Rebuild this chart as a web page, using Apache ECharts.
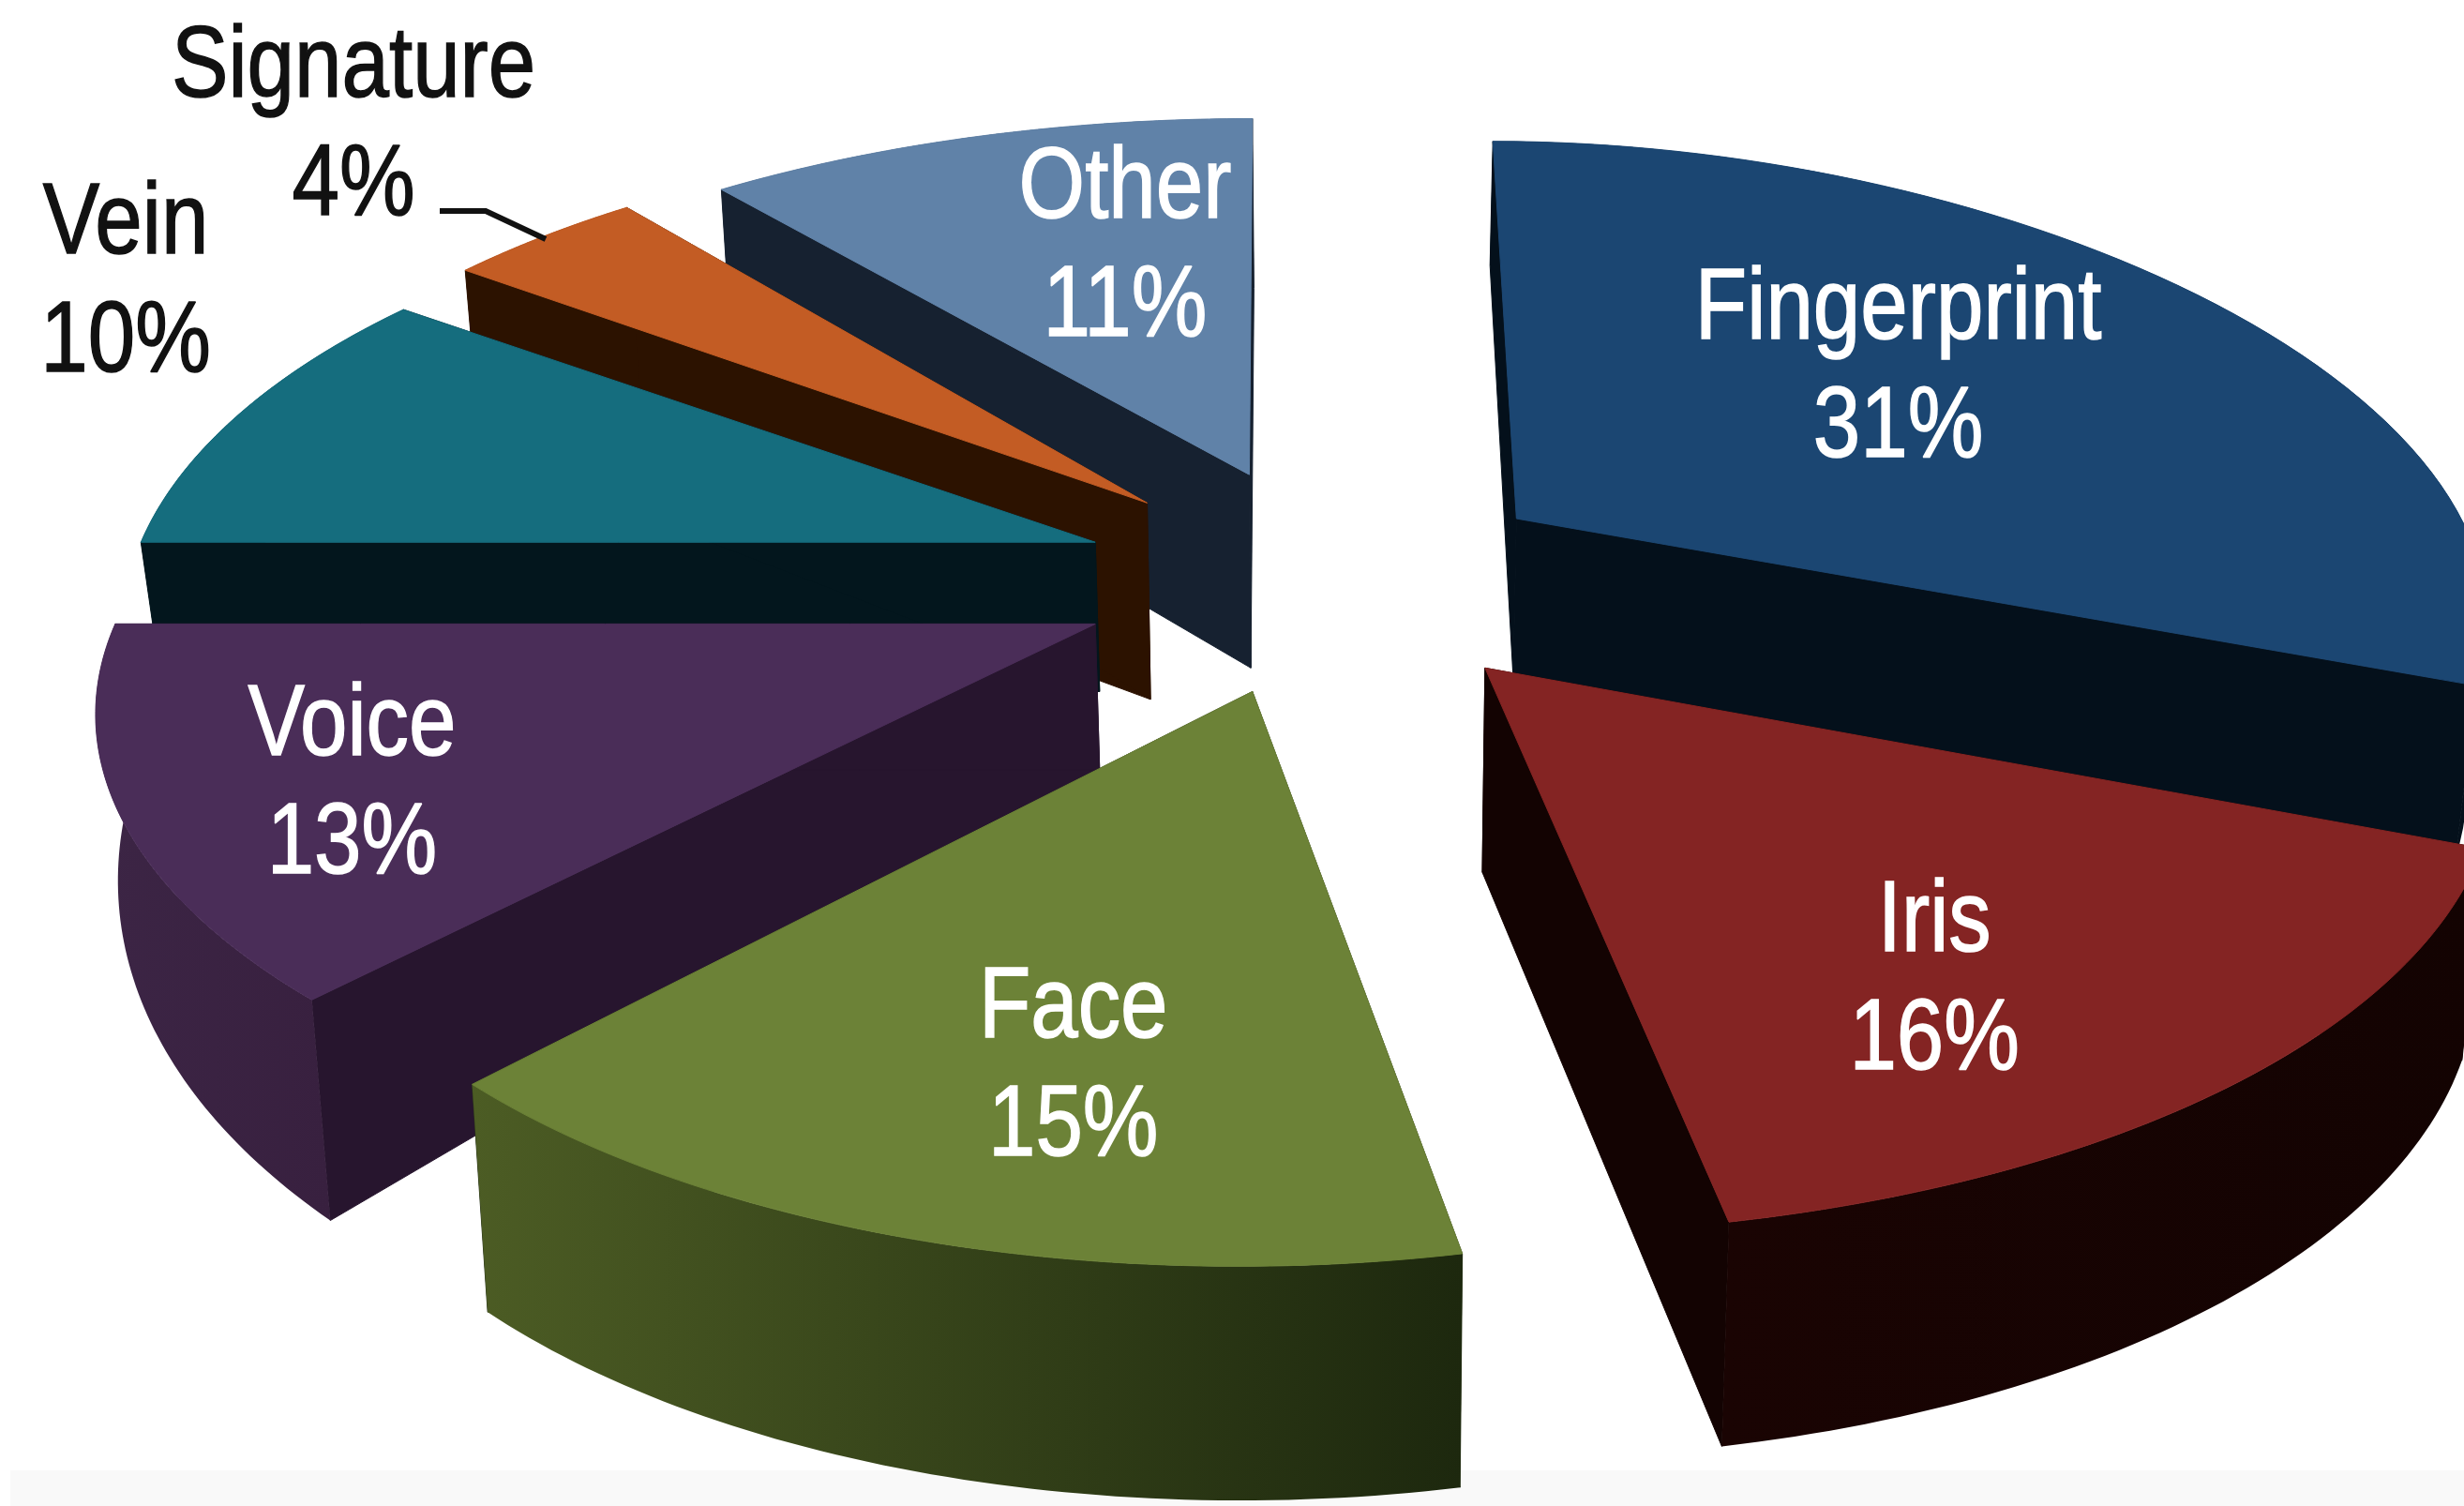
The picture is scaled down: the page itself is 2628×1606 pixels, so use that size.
<!DOCTYPE html>
<html>
<head>
<meta charset="utf-8">
<style>html,body{margin:0;padding:0;background:#fff}#c{width:2628px;height:1606px}</style>
<script src="https://cdn.jsdelivr.net/npm/echarts@6/dist/echarts.min.js"></script>
</head>
<body>
<div id="c"></div>
<script>
// ---- data (clockwise from 12 o'clock) ----
const categories = ['Fingerprint', 'Iris', 'Face', 'Voice', 'Vein', 'Signature', 'Other'];
const shareValues = [31, 16, 15, 13, 10, 4, 11];

// ---- layout & style, in units of the shrunk preview (multiplied by S) ----
const S = 2628 / 1568;
const paintOrder = [6, 5, 4, 0, 3, 1, 2];
const RADIUS = 630, DEPTH = 281, VANISH_X = 850, WALL_CONVERGE = 0.018;
const perspective = [0.14,0.197,0.197,0.197,0.197,0.197,0.197];
const apexes = [[965,330],[945,425],[797,440],[697,397],[697,345],[730,320],[795,302]];
const radiusX = [0.847,1.0,0.973,0.99,0.964,0.95,0.968];
const radiusGrow = [0.133,0,0,0,0,0,0];
const radiusY = [0.974,1.03,1.045,1.0,1.0,1.0,0.965];
const skew = [15,9,-9,0,0,0,-2];
const wallBase = [101,130,134,93,95,125,123];
const wallSlope = [22,13,15,65,30,15,15];
const topColors = ['#1b4672','#842423','#6c8237','#4a2d58','#156d7e','#c35c24','#6082a8'];
const sideColors = ['#04101b','#130302','#2a351a','#27152e','#03161d','#2c1200','#162130'];
const outerFrom = ['#04101b','#1a0403','#4c5c24','#3c2545','#03161d','#2c1200','#162130'];
const outerTo = ['#04101b','#130302','#1d280e','#38203f','#03161d','#2c1200','#162130'];
const labelPos = [[1208,235],[1231,625],[683,680],[224,500],[80,181],[225,81],[716,158]];
const labelColors = ['#fff','#fff','#fff','#fff','#111','#111','#fff'];
const FONT = 108, LINE = 126, NARROW = 0.84;

const total = shareValues.reduce((a, b) => a + b, 0);
function angles(i) {
  let before = 0;
  for (let k = 0; k < i; k++) before += shareValues[k];
  return [before / total * 2 * Math.PI, (before + shareValues[i]) / total * 2 * Math.PI];
}
function topPoint(i, th, t) {
  const a = apexes[i], u = Math.sin(th), v = -Math.cos(th), w = 1 - perspective[i] * v;
  const rx = RADIUS * (radiusX[i] + radiusGrow[i] * t);
  return { x: a[0] + rx * u / w + skew[i] * v, y: a[1] + DEPTH * radiusY[i] * v / w, v };
}
function dropPoint(i, p) {
  return [p.x + (VANISH_X - p.x) * WALL_CONVERGE, p.y + wallBase[i] + wallSlope[i] * p.v];
}
const px = p => [p[0] * S, p[1] * S];

function renderSlice(params, api) {
  const i = api.value(0);
  const [a0, a1] = angles(i);
  const apex = { x: apexes[i][0], y: apexes[i][1], v: 0 };
  const arc = [];
  const steps = 64;
  for (let k = 0; k <= steps; k++) arc.push(topPoint(i, a0 + (a1 - a0) * k / steps, k / steps));
  const poly = (pts, fill) => ({
    type: 'polygon', shape: { points: pts.map(px) },
    style: { fill, stroke: typeof fill === 'string' ? fill : null, lineWidth: 1 }, silent: true
  });
  const wallQuad = (p, q) => [[p.x, p.y], [q.x, q.y], dropPoint(i, q), dropPoint(i, p)];
  const outerTop = arc.map(p => [p.x, p.y]);
  const outerBottom = arc.map(p => dropPoint(i, p)).reverse();
  const outerFill = new echarts.graphic.LinearGradient(0, 0, 1, 0, [
    { offset: 0, color: outerFrom[i] }, { offset: 1, color: outerTo[i] }
  ]);
  const children = [
    poly(wallQuad(apex, arc[0]), sideColors[i]),
    poly(wallQuad(apex, arc[steps]), sideColors[i]),
    poly(outerTop.concat(outerBottom), outerFill),
    poly([[apex.x, apex.y]].concat(outerTop), topColors[i]),
    {
      type: 'text', z2: 100, silent: true,
      x: labelPos[i][0] * S, y: labelPos[i][1] * S, scaleX: NARROW,
      style: {
        text: categories[i] + '\n' + shareValues[i] + '%',
        font: FONT + 'px "Liberation Sans"',
        lineHeight: LINE, align: 'center', verticalAlign: 'middle',
        fill: labelColors[i], stroke: labelColors[i], lineWidth: 1.5
      }
    }
  ];
  return { type: 'group', children };
}

const chart = echarts.init(document.getElementById('c'), null, { renderer: 'canvas' });
chart.setOption({
  animation: false,
  backgroundColor: '#ffffff',
  graphic: [
    { type: 'rect', z: 0, silent: true, shape: { x: 11, y: 1568, width: 2617, height: 38 }, style: { fill: '#f9f9f9' } },
    { type: 'polyline', z: 10, silent: true, shape: { points: [[469, 225], [518, 225], [582, 255]] }, style: { stroke: '#111', lineWidth: 6, fill: null } }
  ],
  series: [{
    type: 'custom',
    coordinateSystem: 'none',
    silent: true,
    clip: false,
    renderItem: renderSlice,
    data: paintOrder.map(i => [i, shareValues[i]])
  }]
});
</script>
</body>
</html>
